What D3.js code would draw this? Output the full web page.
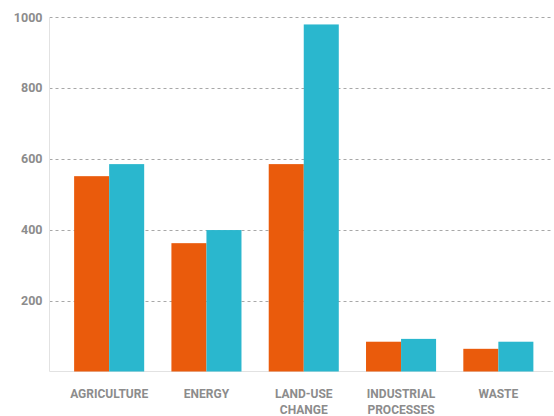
<!DOCTYPE html>
<html>
<head>
<meta charset="utf-8">
<script src="https://cdn.jsdelivr.net/npm/d3@7"></script>
<style>
  body { margin: 0; background: #fff; }
  text { font-family: Roboto, "Liberation Sans", sans-serif; font-weight: bold; fill: #8c8c8c; }
</style>
</head>
<body>
<script>
const categories = [["AGRICULTURE"], ["ENERGY"], ["LAND-USE", "CHANGE"], ["INDUSTRIAL", "PROCESSES"], ["WASTE"]]
const seriesA = [551, 362, 585, 84, 64]
const seriesB = [585, 399, 979, 92, 84]
const yTicks = [200, 400, 600, 800, 1000]

const w = 554
const h = 416
const padLeft = 49.5
const padTop = 17
const baseY = 371.5
const padRight = 553

const svg = d3.select("body")
  .append("svg")
  .attr("width", w)
  .attr("height", h)

const yScale = d3.scaleLinear()
  .domain([0, 1000])
  .range([baseY, padTop])

const keys = categories.map((d, i) => i)
const xScale = d3.scaleBand()
  .domain(keys)
  .range([60.5, 547])
  .paddingInner(0.28)
  .paddingOuter(0.14)

const xSub = d3.scaleBand()
  .domain([0, 1])
  .range([0, xScale.bandwidth()])

// grid
svg.append("g")
  .selectAll("line")
  .data(yTicks)
  .enter()
  .append("line")
  .attr("x1", padLeft)
  .attr("x2", padRight)
  .attr("y1", d => Math.round(yScale(d)) + 0.5)
  .attr("y2", d => Math.round(yScale(d)) + 0.5)
  .attr("stroke", "#a8a8a8")
  .attr("stroke-dasharray", "3,3")

// axis lines
svg.append("line")
  .attr("x1", padLeft).attr("x2", padLeft)
  .attr("y1", padTop).attr("y2", baseY)
  .attr("stroke", "#e2e2e2")
svg.append("line")
  .attr("x1", padLeft).attr("x2", padRight)
  .attr("y1", baseY).attr("y2", baseY)
  .attr("stroke", "#e2e2e2")

const yAxis = d3.axisLeft(yScale).tickValues(yTicks).tickFormat(d3.format("d")).tickSize(0).tickPadding(7)
const ya = svg.append("g")
  .attr("transform", "translate(" + padLeft + ",0)")
  .call(yAxis)
ya.select(".domain").remove()
ya.selectAll("text")
  .style("font-size", "12.5px")
  .style("font-family", "Roboto, sans-serif")
  .attr("fill", "#8c8c8c")

const colors = ["#ea5b0c", "#2ab7ce"]
const series = [seriesA, seriesB]

series.forEach((vals, s) => {
  svg.append("g")
    .selectAll("rect")
    .data(vals)
    .enter()
    .append("rect")
    .attr("x", (d, i) => xScale(i) + xSub(s))
    .attr("width", xSub.bandwidth())
    .attr("y", d => yScale(d))
    .attr("height", d => baseY - yScale(d))
    .style("fill", colors[s])
})

// category labels
const lab = svg.append("g")
  .selectAll("text")
  .data(categories)
  .enter()
  .append("text")
  .attr("text-anchor", "middle")
  .attr("x", (d, i) => xScale(i) + xScale.bandwidth() / 2)
  .attr("y", 397.5)
  .style("font-size", "12px")

lab.selectAll("tspan")
  .data(d => d)
  .enter()
  .append("tspan")
  .attr("x", function () { return d3.select(this.parentNode).attr("x") })
  .attr("dy", (d, i) => i === 0 ? 0 : 16)
  .text(d => d)
</script>
</body>
</html>
